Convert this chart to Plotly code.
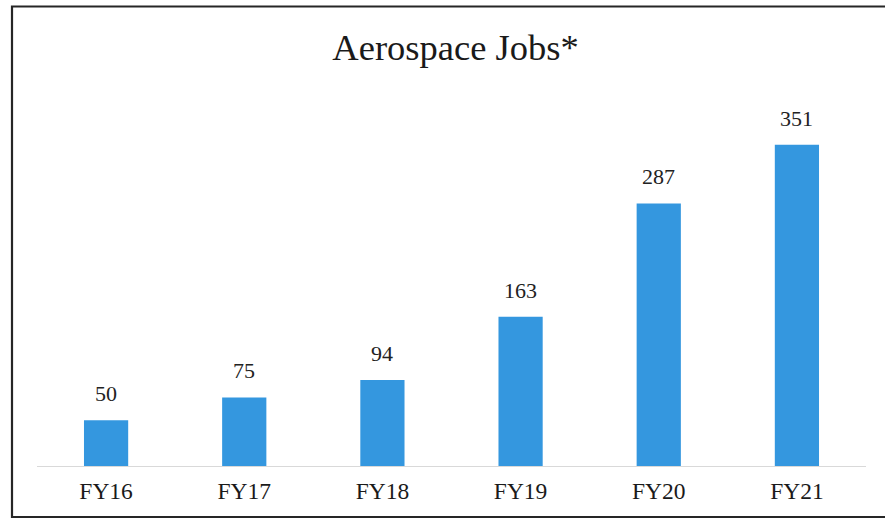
import plotly.graph_objects as go

categories = ["FY16", "FY17", "FY18", "FY19", "FY20", "FY21"]
jobs = [50, 75, 94, 163, 287, 351]
title_text = "Aerospace Jobs*"

W, H = 885, 521
L, R, T, B = 37, 19, 100, 55
pw, ph = W - L - R, H - T - B

def px_to_paper_x(px):
    return (px - L) / pw

def px_to_paper_y(py):
    return (H - B - py) / ph

fig = go.Figure()
fig.add_trace(go.Bar(
    x=categories, y=jobs,
    marker=dict(color="#3497DF", line=dict(width=0)),
    hoverinfo="x+y",
))

for c, v in zip(categories, jobs):
    fig.add_annotation(
        x=c, y=v, text=str(v), showarrow=False,
        yanchor="bottom", yshift=12,
        font=dict(family="Liberation Serif", size=22, color="#222222"),
    )

fig.add_shape(
    type="rect", xref="paper", yref="paper",
    x0=px_to_paper_x(12), x1=px_to_paper_x(887),
    y0=px_to_paper_y(517), y1=px_to_paper_y(6.5),
    line=dict(color="#262626", width=2.2), fillcolor="rgba(0,0,0,0)",
    layer="above",
)

fig.update_layout(
    width=W, height=H,
    margin=dict(l=L, r=R, t=T, b=B),
    paper_bgcolor="white", plot_bgcolor="white",
    bargap=0.68,
    showlegend=False,
    title=dict(
        text=title_text, x=455.5 / W, xanchor="center",
        y=1 - 47 / H, yanchor="middle",
        font=dict(family="Liberation Serif", size=36.5, color="#1a1a1a"),
    ),
    xaxis=dict(
        showgrid=False, showline=False,
        ticks="outside", ticklen=4, tickcolor="rgba(0,0,0,0)",
        tickfont=dict(family="Liberation Serif", size=23.5, color="#1a1a1a"),
    ),
    yaxis=dict(
        range=[0, 400], showgrid=False, showticklabels=False,
        zeroline=True, zerolinecolor="#d9d9d9", zerolinewidth=1,
        showline=False,
    ),
)

fig.write_html(
    "out.html",
    config={"displayModeBar": False},
    post_script="document.body.style.margin='0';document.body.style.overflow='hidden';",
)
